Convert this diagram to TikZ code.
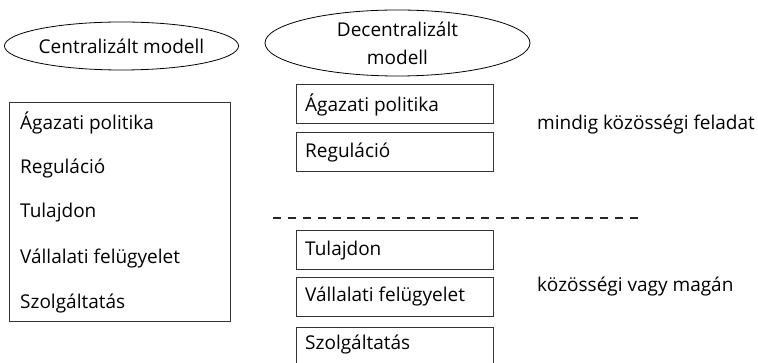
\documentclass[tikz,border=0pt]{standalone}
\usepackage{fontspec}
\setmainfont{Open Sans}
\usetikzlibrary{shapes.geometric}
\begin{document}
\begin{tikzpicture}[x=1pt,y=-1pt,
  oval/.style={draw=black,line width=0.8pt,ellipse,inner sep=0pt,align=center,font=\fontsize{19}{28}\selectfont},
  item/.style={draw=black!80,line width=1pt,rectangle,minimum width=197pt,minimum height=39pt,inner sep=0pt},
  lbl/.style={anchor=base west,inner sep=0pt,font=\fontsize{19}{22}\selectfont},
  big/.style={draw=black!80,line width=1pt,rectangle,inner sep=0pt}]
\useasboundingbox (0,0) rectangle (758,363);
\clip (0,0) rectangle (758,363);
% ellipses
\node[oval,minimum width=227pt,minimum height=48pt] (cm) at (121.5,46) {Centralizált modell};
\node[oval,minimum width=265pt,minimum height=66pt] (dm) at (397.5,43) {Decentralizált\\modell};
% left big box
\node[big,minimum width=221pt,minimum height=219pt] (lb) at (120,212.5) {};
\node[lbl] (l1) at (20,130) {Ágazati politika};
\node[lbl] (l2) at (20,174) {Reguláció};
\node[lbl] (l3) at (20,218) {Tulajdon};
\node[lbl] (l4) at (20,264) {Vállalati felügyelet};
\node[lbl] (l5) at (20,309) {Szolgáltatás};
% right boxes
\node[item] (r1) at (395,104.5) {};
\node[item] (r2) at (395,152.5) {};
\node[item] (r3) at (395,250) {};
\node[item] (r4) at (395,297) {};
\node[item] (r5) at (395,347) {};
\node[lbl] (t1) at (305,112) {Ágazati politika};
\node[lbl] (t2) at (305,158) {Reguláció};
\node[lbl] (t3) at (305,256) {Tulajdon};
\node[lbl] (t4) at (305,302) {Vállalati felügyelet};
\node[lbl] (t5) at (305,350) {Szolgáltatás};
% dashed separator
\coordinate (d1) at (273,218);
\coordinate (d2) at (638,218);
\draw[line width=1.5pt,dash pattern=on 8pt off 6.875pt,black!85] (d1) -- (d2);
% side labels
\node[lbl] (s1) at (537,130) {mindig közösségi feladat};
\node[lbl] (s2) at (537,292) {közösségi vagy magán};
\end{tikzpicture}
\end{document}
